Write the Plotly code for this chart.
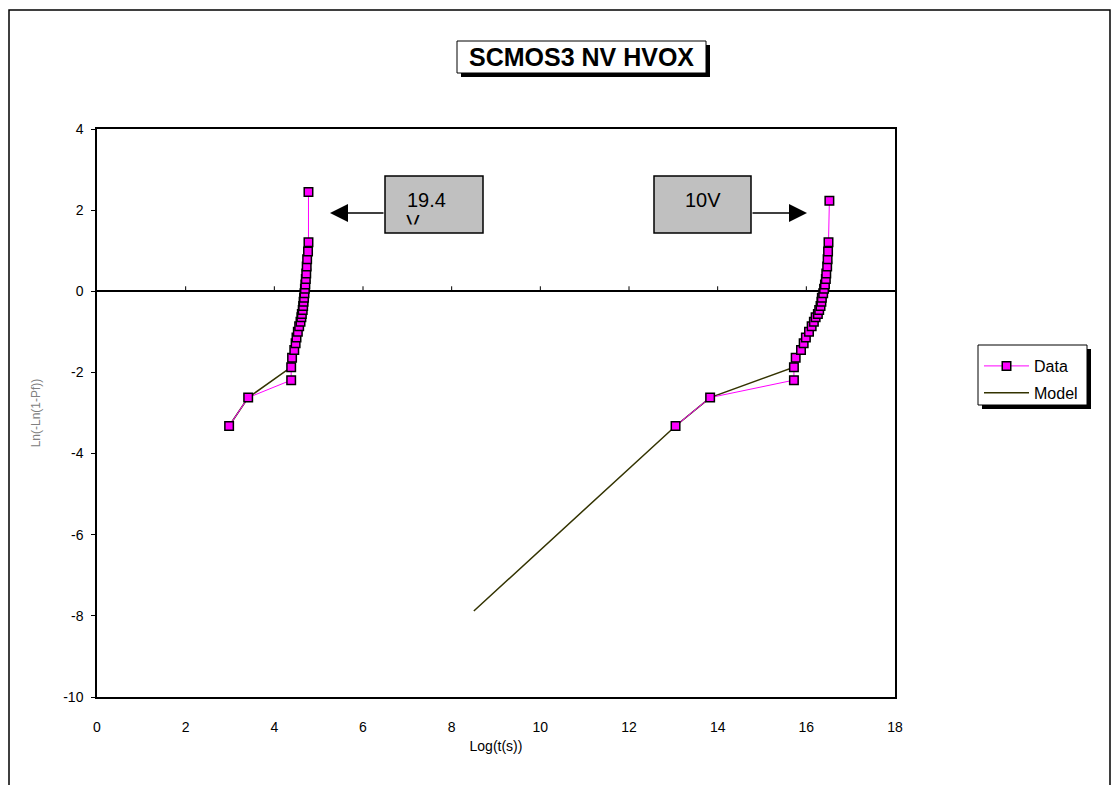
import plotly.graph_objects as go

# ---------------- data ----------------
rank_y = [-3.32, -2.62, -2.19, -1.87, -1.64, -1.45, -1.28, -1.14, -1.00, -0.86,
          -0.75, -0.64, -0.56, -0.46, -0.36, -0.26, -0.16, -0.05, 0.06, 0.17,
          0.30, 0.44, 0.61, 0.79, 0.98, 1.21]
left_top_y = 2.45
right_top_y = 2.23

left_x = [2.98, 3.41, 4.38, 4.38, 4.40, 4.45, 4.48, 4.50, 4.53, 4.56,
          4.59, 4.61, 4.62, 4.64, 4.65, 4.66, 4.67, 4.68, 4.69, 4.70,
          4.71, 4.72, 4.73, 4.74, 4.76, 4.77, 4.77]
right_x = [13.05, 13.83, 15.72, 15.72, 15.76, 15.88, 15.94, 15.99, 16.06, 16.12,
           16.17, 16.21, 16.26, 16.29, 16.32, 16.34, 16.35, 16.38, 16.40, 16.42,
           16.44, 16.45, 16.47, 16.48, 16.49, 16.50, 16.52]

model_start_x = 8.50
model_start_y = -7.88

x_tickvals = [0, 2, 4, 6, 8, 10, 12, 14, 16, 18]
x_ticktext = ["0", "2", "4", "6", "8", "10", "12", "14", "16", "18"]
y_tickvals = [-10, -8, -6, -4, -2, 0, 2, 4]
y_ticktext = ["-10", "-8", "-6", "-4", "-2", "0", "2", "4"]

title_text = "SCMOS3 NV HVOX"
label_left = "19.4"
label_left_cut = "V"
label_right = "10V"

# ---------------- build series ----------------
left_y = rank_y + [left_top_y]
right_y = rank_y + [right_top_y]
data_x = left_x + [None] + right_x
data_y = left_y + [None] + right_y

# model skips the third-ranked point and the top outlier
def model_part(xs, ys):
    idx = [i for i in range(len(ys) - 1) if i != 2]
    return [xs[i] for i in idx], [ys[i] for i in idx]

mlx, mly = model_part(left_x, left_y)
mrx, mry = model_part(right_x, right_y)
model_x = mlx + [None] + [model_start_x] + mrx
model_y = mly + [None] + [model_start_y] + mry

# ---------------- layout geometry (pixels) ----------------
W, H = 1115, 785
L, R, T, B = 97, 895, 129, 697


def px(x):
    return (x - L) / (R - L)


def py(y):
    return (B - y) / (B - T)


FONT = "Liberation Sans, Arial, sans-serif"

fig = go.Figure()
fig.add_trace(go.Scatter(
    x=model_x, y=model_y, mode="lines", name="Model",
    line=dict(color="#333300", width=1.5), legendgroup="m", legendrank=2,
    connectgaps=False,
))
fig.add_trace(go.Scatter(
    x=data_x, y=data_y, mode="lines+markers", name="Data",
    line=dict(color="#ff00ff", width=1),
    marker=dict(symbol="square", size=8.5, color="#ff00ff",
                line=dict(color="black", width=1.5)),
    legendgroup="d", legendrank=1, connectgaps=False,
))

# cut-off "V" of the 19.4 V label, drawn as text inside the plot so it can be clipped
xscale = 18.0 / (R - L)
yscale = 14.0 / (B - T)
fig.add_trace(go.Scatter(
    x=[(413 - L) * xscale], y=[4 - (224 - T) * yscale], mode="text",
    text=[label_left_cut], textposition="middle center",
    textfont=dict(family=FONT, size=20, color="black"),
    showlegend=False, hoverinfo="skip",
))

shapes = []
# outer chart border
shapes.append(dict(type="rect", xref="paper", yref="paper",
                   x0=px(9), x1=px(1110), y0=py(830), y1=py(10),
                   line=dict(color="black", width=1.5), layer="below"))
# title box + shadow
shapes.append(dict(type="rect", xref="paper", yref="paper",
                   x0=px(461), x1=px(710), y0=py(77), y1=py(45),
                   line=dict(width=0), fillcolor="black", layer="above"))
shapes.append(dict(type="rect", xref="paper", yref="paper",
                   x0=px(457), x1=px(706), y0=py(73), y1=py(41),
                   line=dict(color="black", width=1), fillcolor="white", layer="above"))
# legend box + shadow
shapes.append(dict(type="rect", xref="paper", yref="paper",
                   x0=px(982), x1=px(1091), y0=py(409), y1=py(349),
                   line=dict(width=0), fillcolor="black", layer="above"))
shapes.append(dict(type="rect", xref="paper", yref="paper",
                   x0=px(978), x1=px(1087), y0=py(405), y1=py(345),
                   line=dict(color="black", width=1), fillcolor="white", layer="above"))
# label boxes (below traces so the text trace shows above them)
shapes.append(dict(type="rect", xref="paper", yref="paper",
                   x0=px(385), x1=px(483), y0=py(233), y1=py(176),
                   line=dict(color="black", width=1.5), fillcolor="#c0c0c0", layer="below"))
shapes.append(dict(type="rect", xref="paper", yref="paper",
                   x0=px(654), x1=px(751), y0=py(233), y1=py(176),
                   line=dict(color="black", width=1.5), fillcolor="#c0c0c0", layer="below"))
# cover that clips the "V"
shapes.append(dict(type="rect", xref="paper", yref="paper",
                   x0=px(390), x1=px(478), y0=py(232), y1=py(224.5),
                   line=dict(width=0), fillcolor="#c0c0c0", layer="above"))
# tick marks on the zero line
for tv in x_tickvals[1:-1]:
    shapes.append(dict(type="line", xref="x", yref="y", x0=tv, x1=tv,
                       y0=0, y1=5 * yscale, line=dict(color="black", width=1)))

annotations = [
    dict(xref="paper", yref="paper", x=px(581.5), y=py(57), text="<b>" + title_text + "</b>",
         showarrow=False, font=dict(family=FONT, size=25, color="black"),
         xanchor="center", yanchor="middle"),
    dict(xref="paper", yref="paper", x=px(405), y=py(200), text=label_left,
         showarrow=False, font=dict(family=FONT, size=20, color="black"),
         xanchor="left", yanchor="middle"),
    dict(xref="paper", yref="paper", x=px(703), y=py(200), text=label_right,
         showarrow=False, font=dict(family=FONT, size=20, color="black"),
         xanchor="center", yanchor="middle"),
    dict(xref="paper", yref="paper", x=px(330), y=py(213), text="",
         showarrow=True, ax=55, ay=0, arrowhead=2, arrowsize=2.4, arrowwidth=1.5,
         arrowcolor="black", standoff=0, startstandoff=0),
    dict(xref="paper", yref="paper", x=px(807), y=py(213), text="",
         showarrow=True, ax=-56, ay=0, arrowhead=2, arrowsize=2.4, arrowwidth=1.5,
         arrowcolor="black", standoff=0, startstandoff=0),
]

fig.update_layout(
    width=W, height=H,
    margin=dict(l=L, r=W - R, t=T, b=H - B, autoexpand=False),
    paper_bgcolor="white", plot_bgcolor="white",
    font=dict(family=FONT, size=14, color="black"),
    showlegend=True,
    legend=dict(x=px(979), y=py(349), xanchor="left", yanchor="top",
                bgcolor="rgba(0,0,0,0)", borderwidth=0,
                font=dict(family=FONT, size=16, color="black"),
                traceorder="grouped", tracegroupgap=3, itemwidth=45),
    shapes=shapes,
    annotations=annotations,
    xaxis=dict(range=[0, 18], tickvals=x_tickvals, ticktext=x_ticktext,
               showgrid=False, zeroline=False, showline=True, linecolor="black",
               linewidth=1.5, mirror=True, ticks="", ticklabelstandoff=16,
               tickfont=dict(family=FONT, size=14, color="black"),
               title=dict(text="Log(t(s))", standoff=8,
                          font=dict(family=FONT, size=14, color="black"))),
    yaxis=dict(range=[-10, 4], tickvals=y_tickvals, ticktext=y_ticktext,
               showgrid=False, zeroline=True, zerolinecolor="black", zerolinewidth=1.5,
               showline=True, linecolor="black", linewidth=1.5, mirror=True,
               ticks="outside", ticklen=4, tickcolor="black", ticklabelstandoff=5,
               tickfont=dict(family=FONT, size=14, color="black"),
               title=dict(text="Ln(-Ln(1-Pf))", standoff=20,
                          font=dict(family=FONT, size=12, color="#808080"))),
)

fig.write_html(
    "out.html",
    config={"displayModeBar": False},
    post_script="document.body.style.margin='0';document.body.style.overflow='hidden';",
)
